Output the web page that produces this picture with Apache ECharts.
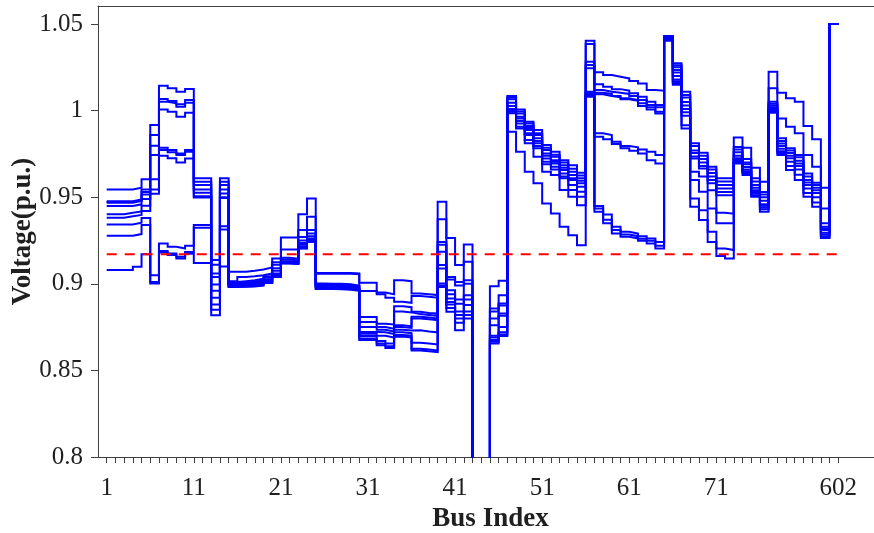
<!DOCTYPE html>
<html>
<head>
<meta charset="utf-8">
<script src="https://cdn.jsdelivr.net/npm/echarts@6/dist/echarts.min.js"></script>
<style>
  html, body { margin: 0; padding: 0; background: #ffffff; }
  #chart { width: 874px; height: 533px; }
</style>
</head>
<body>
<div id="chart"></div>
<script>
// Bus voltage profiles (p.u.) for ten operating cases, buses 1..85
const case1 = [
  0.9545, 0.9545, 0.9545, 0.9555, 0.9603, 0.9917, 1.0144, 1.0129, 1.0109, 1.0125,
  0.9609, 0.9609, 0.9137, 0.9609, 0.9069, 0.9069, 0.9075, 0.9083, 0.9094, 0.9146,
  0.9268, 0.9268, 0.9402, 0.9493, 0.9063, 0.9063, 0.9063, 0.9063, 0.9060, 0.9006,
  0.9006, 0.8950, 0.8940, 0.9021, 0.9015, 0.8944, 0.8940, 0.8935, 0.9474, 0.9265,
  0.9108, 0.9227, 0.7900, 0.7880, 0.8986, 0.9017, 1.0084, 1.0007, 0.9936, 0.9888,
  0.9801, 0.9762, 0.9714, 0.9685, 0.9641, 1.0404, 1.0221, 1.0205, 1.0196, 1.0186,
  1.0171, 1.0157, 1.0119, 1.0115, 1.0431, 1.0273, 1.0109, 0.9811, 0.9757, 0.9676,
  0.9609, 0.9609, 0.9845, 0.9785, 0.9670, 0.9589, 1.0224, 1.0103, 1.0071, 1.0051,
  0.9911, 0.9834, 0.9554, 1.0500, 1.0500
];
const case2 = [
  0.9477, 0.9477, 0.9477, 0.9487, 0.9545, 0.9859, 1.0067, 1.0055, 1.0036, 1.0061,
  0.9589, 0.9589, 0.9110, 0.9589, 0.9015, 0.9040, 0.9044, 0.9050, 0.9060, 0.9125,
  0.9198, 0.9198, 0.9310, 0.9387, 0.9058, 0.9058, 0.9058, 0.9058, 0.9055, 0.8959,
  0.8959, 0.8940, 0.8920, 0.8896, 0.8890, 0.8930, 0.8925, 0.8920, 0.9373, 0.9040,
  0.9011, 0.9127, 0.7880, 0.7860, 0.8857, 0.8934, 1.0075, 0.9995, 0.9925, 0.9870,
  0.9785, 0.9745, 0.9700, 0.9665, 0.9625, 1.0384, 1.0152, 1.0138, 1.0124, 1.0115,
  1.0100, 1.0080, 1.0051, 1.0032, 1.0428, 1.0262, 1.0090, 0.9795, 0.9740, 0.9660,
  0.9590, 0.9590, 0.9790, 0.9720, 0.9610, 0.9530, 1.0129, 0.9955, 0.9907, 0.9869,
  0.9743, 0.9676, 0.9435, 1.0500, 1.0500
];
const case3 = [
  0.9472, 0.9472, 0.9472, 0.9482, 0.9530, 0.9797, 1.0051, 1.0043, 1.0022, 1.0046,
  0.9570, 0.9570, 0.9060, 0.9570, 0.9010, 0.9015, 0.9020, 0.9030, 0.9044, 0.9110,
  0.9150, 0.9145, 0.9270, 0.9310, 0.9002, 0.9000, 0.9000, 0.8998, 0.8990, 0.8809,
  0.8809, 0.8770, 0.8765, 0.8870, 0.8865, 0.8838, 0.8832, 0.8828, 0.9242, 0.9025,
  0.8990, 0.9021, 0.7860, 0.7840, 0.8840, 0.8886, 1.0065, 0.9984, 0.9911, 0.9859,
  0.9772, 0.9733, 0.9685, 0.9647, 0.9609, 1.0282, 1.0119, 1.0109, 1.0103, 1.0096,
  1.0084, 1.0061, 1.0032, 1.0019, 1.0425, 1.0250, 1.0075, 0.9770, 0.9720, 0.9640,
  0.9570, 0.9570, 0.9775, 0.9700, 0.9590, 0.9515, 1.0051, 0.9840, 0.9782, 0.9743,
  0.9637, 0.9583, 0.9349, 1.0500, 1.0500
];
const case4 = [
  0.9468, 0.9468, 0.9468, 0.9478, 0.9515, 0.9743, 1.0007, 0.9994, 0.9964, 0.9988,
  0.9545, 0.9545, 0.9040, 0.9545, 0.9005, 0.9008, 0.9012, 0.9020, 0.9035, 0.9090,
  0.9140, 0.9135, 0.9250, 0.9290, 0.8998, 0.8996, 0.8995, 0.8994, 0.8985, 0.8780,
  0.8780, 0.8750, 0.8740, 0.8840, 0.8835, 0.8825, 0.8820, 0.8815, 0.9225, 0.8963,
  0.8910, 0.9000, 0.7840, 0.7820, 0.8800, 0.8875, 1.0045, 0.9965, 0.9900, 0.9840,
  0.9753, 0.9714, 0.9670, 0.9628, 0.9595, 1.0263, 1.0103, 1.0096, 1.0084, 1.0071,
  1.0061, 1.0042, 1.0019, 0.9993, 1.0422, 1.0234, 1.0050, 0.9755, 0.9700, 0.9620,
  0.9550, 0.9550, 0.9760, 0.9690, 0.9570, 0.9500, 1.0040, 0.9825, 0.9770, 0.9730,
  0.9620, 0.9570, 0.9330, 1.0500, 1.0500
];
const case5 = [
  0.9449, 0.9449, 0.9449, 0.9459, 0.9490, 0.9603, 0.9785, 0.9772, 0.9753, 0.9772,
  0.9526, 0.9526, 0.8996, 0.9522, 0.9000, 0.9002, 0.9006, 0.9012, 0.9025, 0.9075,
  0.9130, 0.9128, 0.9235, 0.9275, 0.8994, 0.8992, 0.8990, 0.8989, 0.8980, 0.8751,
  0.8751, 0.8735, 0.8725, 0.8761, 0.8755, 0.8810, 0.8805, 0.8800, 0.9185, 0.8940,
  0.8885, 0.8934, 0.7820, 0.7800, 0.8761, 0.8829, 1.0026, 0.9955, 0.9888, 0.9825,
  0.9740, 0.9705, 0.9657, 0.9610, 0.9580, 1.0244, 1.0095, 1.0084, 1.0077, 1.0065,
  1.0057, 1.0026, 1.0007, 0.9984, 1.0420, 1.0220, 1.0030, 0.9735, 0.9680, 0.9600,
  0.9530, 0.9530, 0.9740, 0.9675, 0.9555, 0.9480, 1.0030, 0.9810, 0.9755, 0.9710,
  0.9600, 0.9555, 0.9320, 1.0500, 1.0500
];
const case6 = [
  0.9402, 0.9402, 0.9410, 0.9418, 0.9450, 0.9545, 0.9772, 0.9760, 0.9743, 0.9762,
  0.9505, 0.9505, 0.8960, 0.9500, 0.8995, 0.8997, 0.9000, 0.9006, 0.9018, 0.9060,
  0.9125, 0.9123, 0.9225, 0.9262, 0.8990, 0.8988, 0.8986, 0.8985, 0.8976, 0.8722,
  0.8722, 0.8720, 0.8710, 0.8750, 0.8745, 0.8800, 0.8795, 0.8790, 0.9108, 0.8915,
  0.8840, 0.8910, 0.7800, 0.7780, 0.8700, 0.8815, 1.0010, 0.9940, 0.9870, 0.9811,
  0.9724, 0.9695, 0.9637, 0.9599, 0.9560, 1.0109, 0.9869, 0.9859, 0.9820, 0.9795,
  0.9788, 0.9776, 0.9762, 0.9743, 1.0418, 1.0200, 1.0010, 0.9724, 0.9666, 0.9580,
  0.9512, 0.9512, 0.9725, 0.9660, 0.9540, 0.9460, 1.0020, 0.9795, 0.9740, 0.9695,
  0.9585, 0.9540, 0.9310, 1.0500, 1.0500
];
const case7 = [
  0.9381, 0.9381, 0.9390, 0.9398, 0.9420, 0.9520, 0.9739, 0.9725, 0.9701, 0.9724,
  0.9498, 0.9498, 0.8919, 0.9495, 0.8990, 0.8992, 0.8995, 0.9000, 0.9012, 0.9052,
  0.9122, 0.9120, 0.9215, 0.9255, 0.8985, 0.8984, 0.8982, 0.8981, 0.8972, 0.8712,
  0.8712, 0.8700, 0.8690, 0.8735, 0.8730, 0.8732, 0.8725, 0.8720, 0.9089, 0.8895,
  0.8820, 0.8877, 0.7780, 0.7760, 0.8690, 0.8751, 1.0000, 0.9926, 0.9859, 0.9795,
  0.9705, 0.9676, 0.9620, 0.9570, 0.9531, 1.0100, 0.9849, 0.9834, 0.9807, 0.9782,
  0.9768, 0.9753, 0.9714, 0.9695, 1.0415, 1.0180, 0.9990, 0.9647, 0.9620, 0.9540,
  0.9410, 0.9405, 0.9715, 0.9650, 0.9530, 0.9450, 1.0010, 0.9780, 0.9725, 0.9680,
  0.9570, 0.9525, 0.9295, 1.0500, 1.0500
];
const case8 = [
  0.9343, 0.9343, 0.9343, 0.9353, 0.9380, 0.9050, 0.9233, 0.9214, 0.9204, 0.9220,
  0.9339, 0.9339, 0.8880, 0.9333, 0.8986, 0.8988, 0.8991, 0.8995, 0.9008, 0.9046,
  0.9120, 0.9118, 0.9210, 0.9250, 0.8980, 0.8980, 0.8978, 0.8976, 0.8968, 0.8698,
  0.8698, 0.8670, 0.8655, 0.8720, 0.8715, 0.8660, 0.8655, 0.8650, 0.9002, 0.8880,
  0.8800, 0.8840, 0.7760, 0.7740, 0.8675, 0.8720, 0.9993, 0.9907, 0.9830, 0.9782,
  0.9690, 0.9660, 0.9609, 0.9541, 0.9502, 1.0090, 0.9449, 0.9400, 0.9329, 0.9300,
  0.9290, 0.9275, 0.9262, 0.9242, 1.0412, 1.0170, 0.9970, 0.9599, 0.9531, 0.9435,
  0.9349, 0.9349, 0.9705, 0.9645, 0.9520, 0.9440, 1.0000, 0.9765, 0.9705, 0.9660,
  0.9550, 0.9500, 0.9285, 1.0500, 1.0500
];
const case9 = [
  0.9277, 0.9277, 0.9277, 0.9287, 0.9340, 0.9010, 0.9190, 0.9175, 0.9156, 0.9183,
  0.9323, 0.9323, 0.8850, 0.9313, 0.8984, 0.8985, 0.8988, 0.8992, 0.9006, 0.9043,
  0.9118, 0.9116, 0.9206, 0.9245, 0.8975, 0.8975, 0.8973, 0.8971, 0.8965, 0.8684,
  0.8684, 0.8655, 0.8640, 0.8705, 0.8700, 0.8625, 0.8620, 0.8615, 0.8990, 0.8860,
  0.8775, 0.8820, 0.7740, 0.7720, 0.8665, 0.8708, 0.9985, 0.9897, 0.9811, 0.9733,
  0.9647, 0.9628, 0.9541, 0.9502, 0.9454, 1.0085, 0.9435, 0.9370, 0.9310, 0.9285,
  0.9275, 0.9260, 0.9248, 0.9220, 1.0408, 1.0160, 0.9915, 0.9493, 0.9425, 0.9300,
  0.9204, 0.9195, 0.9700, 0.9640, 0.9510, 0.9430, 0.9995, 0.9755, 0.9680, 0.9630,
  0.9525, 0.9470, 0.9275, 1.0500, 1.0500
];
const case10 = [
  0.9079, 0.9079, 0.9079, 0.9098, 0.9170, 0.9002, 0.9181, 0.9166, 0.9146, 0.9173,
  0.9120, 0.9120, 0.8819, 0.9100, 0.8982, 0.8983, 0.8985, 0.8990, 0.9005, 0.9040,
  0.9117, 0.9115, 0.9204, 0.9242, 0.8970, 0.8970, 0.8968, 0.8966, 0.8960, 0.8675,
  0.8675, 0.8645, 0.8630, 0.8695, 0.8690, 0.8615, 0.8610, 0.8605, 0.8982, 0.8838,
  0.8732, 0.8800, 0.7720, 0.7700, 0.8655, 0.8698, 0.9878, 0.9762, 0.9647, 0.9580,
  0.9464, 0.9406, 0.9329, 0.9281, 0.9223, 1.0080, 0.9416, 0.9350, 0.9291, 0.9271,
  0.9262, 0.9248, 0.9233, 0.9204, 1.0404, 1.0150, 0.9897, 0.9445, 0.9368, 0.9242,
  0.9160, 0.9146, 0.9695, 0.9628, 0.9502, 0.9416, 0.9988, 0.9743, 0.9657, 0.9599,
  0.9502, 0.9445, 0.9265, 1.0500, 1.0500
];

// Lower voltage limit drawn across all buses
const voltageLimit = 0.917;

// Axis ticks and labels
const xLabelBuses = [1, 11, 21, 31, 41, 51, 61, 71, 85];
const xLabelTexts = ['1', '11', '21', '31', '41', '51', '61', '71', '602'];
const yTickValues = [0.8, 0.85, 0.9, 0.95, 1.0, 1.05];

const allCases = [case1, case2, case3, case4, case5, case6, case7, case8, case9, case10];
const busCount = case1.length;
const busTicks = [];
for (let b = 1; b <= busCount; b++) busTicks.push(b);

const serifFont = '"Liberation Serif", "Times New Roman", "DejaVu Serif", serif';
const axisGrey = '#404040';
const textColor = '#1f1f1f';

const series = allCases.map(function (values, k) {
  return {
    name: 'case' + (k + 1),
    type: 'line',
    step: 'end',
    symbol: 'none',
    clip: true,
    silent: true,
    lineStyle: { color: '#0000ff', width: 2, join: 'miter' },
    data: values.map(function (v, i) { return [i + 1, v]; }),
    z: 2
  };
});

series.push({
  name: 'limit',
  type: 'line',
  symbol: 'none',
  silent: true,
  lineStyle: { color: '#ff0000', width: 2, type: [10, 8] },
  data: [[1, voltageLimit], [busCount, voltageLimit]],
  z: 3
});

const chart = echarts.init(document.getElementById('chart'), null, { renderer: 'canvas' });
chart.setOption({
  animation: false,
  backgroundColor: '#ffffff',
  grid: { left: 98, right: 0, top: 6, bottom: 76, containLabel: false, outerBoundsMode: 'none' },
  xAxis: [{
    type: 'value',
    min: 0,
    max: 89.1,
    position: 'bottom',
    name: 'Bus Index',
    nameLocation: 'middle',
    nameGap: 49,
    nameMoveOverlap: false,
    nameTextStyle: {
      fontFamily: serifFont, fontWeight: 'bold', fontSize: 27, color: textColor,
      padding: [0, 0, 0, 9]
    },
    axisLine: { show: true, onZero: false, lineStyle: { color: axisGrey, width: 1 } },
    axisTick: { show: true, customValues: busTicks, length: 6, lineStyle: { color: axisGrey, width: 1 } },
    axisLabel: {
      customValues: xLabelBuses,
      margin: 19,
      fontFamily: serifFont,
      fontSize: 25,
      color: textColor,
      formatter: function (v) {
        const idx = xLabelBuses.indexOf(Math.round(v));
        return idx >= 0 ? xLabelTexts[idx] : '';
      }
    },
    splitLine: { show: false }
  }, {
    type: 'value',
    min: 0,
    max: 89.1,
    position: 'top',
    axisLine: { show: true, onZero: false, lineStyle: { color: axisGrey, width: 1 } },
    axisTick: { show: false },
    axisLabel: { show: false },
    splitLine: { show: false }
  }],
  yAxis: {
    type: 'value',
    min: 0.8,
    max: 1.0604,
    name: 'Voltage(p.u.)',
    nameLocation: 'middle',
    nameGap: 61,
    nameMoveOverlap: false,
    nameRotate: 90,
    nameTextStyle: { fontFamily: serifFont, fontWeight: 'bold', fontSize: 27, color: textColor },
    axisLine: { show: true, onZero: false, lineStyle: { color: axisGrey, width: 1 } },
    axisTick: { show: true, customValues: yTickValues, length: 7, lineStyle: { color: axisGrey, width: 1 } },
    axisLabel: {
      customValues: yTickValues,
      margin: 15,
      fontFamily: serifFont,
      fontSize: 25,
      color: textColor,
      formatter: function (v) { return String(Math.round(v * 100) / 100); }
    },
    splitLine: { show: false }
  },
  series: series
});
</script>
</body>
</html>
